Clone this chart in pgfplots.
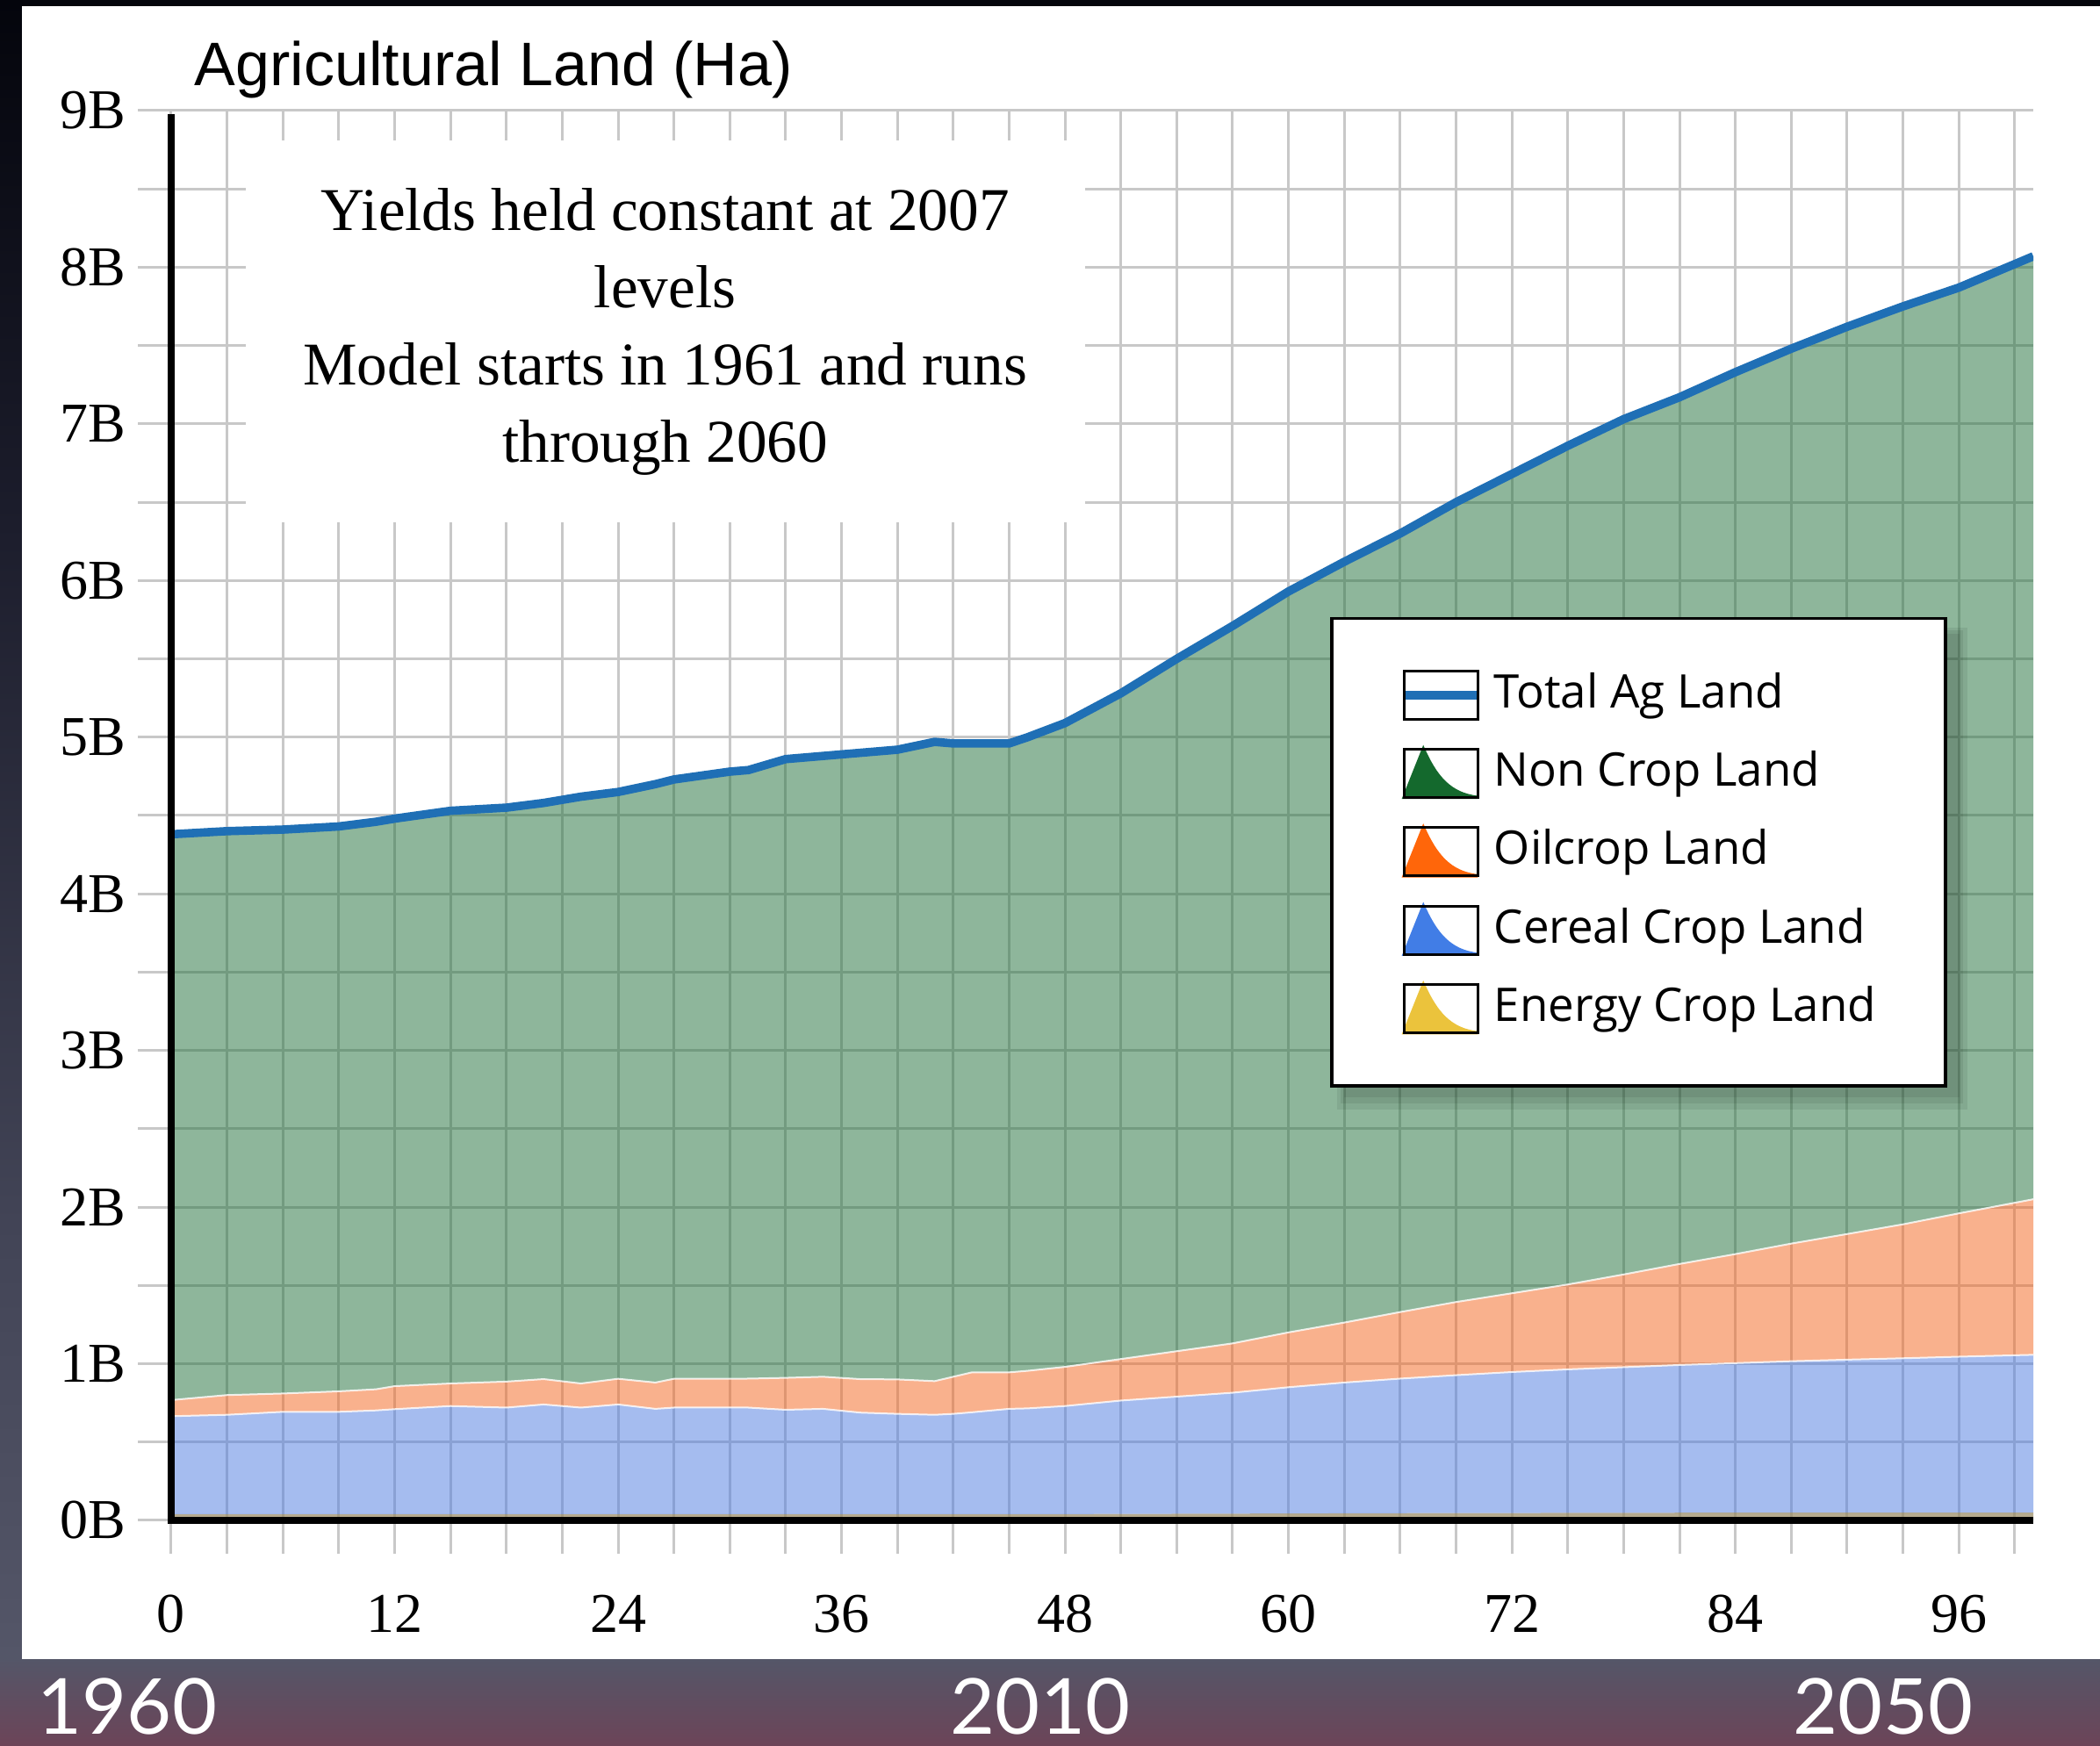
\documentclass[border=0pt]{standalone}
\usepackage{pgfplots}
\pgfplotsset{compat=1.18}
\usepackage{pgfplotstable}
\usepgfplotslibrary{fillbetween}
\usepackage{fontspec}
\setmainfont{Liberation Serif}
\newfontfamily\titlefont{Liberation Sans}
\newfontfamily\legfont{Open Sans}
\newfontfamily\yearfont{Lato}

\definecolor{nongreen}{RGB}{31,111,57}
\definecolor{oilorange}{RGB}{245,101,29}
\definecolor{cerealblue}{RGB}{77,123,225}
\definecolor{energytan}{RGB}{150,135,95}
\definecolor{legnon}{RGB}{20,105,45}
\definecolor{legoil}{RGB}{255,102,10}
\definecolor{legcer}{RGB}{65,125,230}
\definecolor{legene}{RGB}{235,195,60}
\definecolor{totblue}{RGB}{31,111,181}
\definecolor{gridgray}{RGB}{200,200,200}
\definecolor{bgtop}{RGB}{4,5,12}
\definecolor{bgmidA}{RGB}{28,29,44}
\definecolor{bgmidB}{RGB}{66,68,86}
\definecolor{bgband}{RGB}{84,86,104}
\definecolor{bgbot}{RGB}{108,68,88}

\pgfdeclareverticalshading{bgshade}{100bp}{color(0bp)=(bgbot); color(25bp)=(bgbot); color(27.5bp)=(bgband); color(40bp)=(bgmidB); color(60bp)=(bgmidA); color(75bp)=(bgtop); color(100bp)=(bgtop)}

\pgfplotstableread{
x   E     C      O      T
0   0.040 0.665  0.768  4.38
3   0.040 0.674  0.800  4.40
6   0.040 0.693  0.810  4.41
9   0.040 0.693  0.824  4.43
11  0.040 0.702  0.837  4.46
12  0.040 0.710  0.857  4.48
15  0.040 0.730  0.874  4.53
18  0.040 0.720  0.886  4.55
20  0.040 0.740  0.902  4.58
22  0.040 0.720  0.874  4.62
24  0.040 0.740  0.904  4.65
26  0.040 0.712  0.880  4.70
27  0.040 0.720  0.904  4.73
30  0.040 0.720  0.904  4.78
31  0.040 0.720  0.905  4.79
33  0.040 0.706  0.910  4.86
35  0.040 0.712  0.917  4.88
37  0.040 0.688  0.902  4.90
39  0.040 0.680  0.900  4.92
41  0.040 0.674  0.889  4.97
42  0.040 0.680  0.917  4.96
43  0.040 0.690  0.945  4.96
45  0.040 0.712  0.945  4.96
46  0.040 0.715  0.955  5.00
48  0.040 0.730  0.980  5.09
51  0.041 0.765  1.030  5.28
54  0.042 0.790  1.080  5.50
57  0.043 0.815  1.130  5.71
60  0.044 0.850  1.200  5.93
63  0.045 0.880  1.263  6.12
66  0.046 0.905  1.330  6.30
69  0.047 0.927  1.394  6.50
72  0.047 0.947  1.450  6.68
75  0.048 0.964  1.506  6.86
78  0.048 0.978  1.570  7.03
81  0.049 0.992  1.637  7.17
84  0.049 1.004  1.700  7.33
87  0.049 1.016  1.767  7.48
90  0.050 1.026  1.828  7.62
93  0.050 1.035  1.890  7.75
96  0.050 1.045  1.960  7.87
100 0.050 1.057  2.050  8.07
}\landdata

\begin{document}
\begin{tikzpicture}
\begin{axis}[
  name=ax, at={(0pt,0pt)}, anchor=south west,
  set layers, clip mode=individual,
  scale only axis, width=530.25pt, height=401.5pt,
  xmin=0, xmax=100, ymin=0, ymax=9,
  axis x line*=bottom, axis y line*=left, axis line style={draw=none},
  xtick={0,12,24,36,48,60,72,84,96},
  xticklabels={0,12,24,36,48,60,72,84,96},
  minor xtick={3,6,...,99},
  ytick={0,1,2,3,4,5,6,7,8,9},
  yticklabels={0B,1B,2B,3B,4B,5B,6B,7B,8B,9B},
  minor ytick={0.5,1.5,...,8.5},
  grid=both,
  grid style={gridgray, line width=0.75pt},
  major grid style={gridgray, line width=0.75pt},
  minor grid style={gridgray, line width=0.75pt},
  tick align=outside,
  major tick length=9.5pt, minor tick length=9.5pt,
  tick style={gridgray, line width=0.75pt},
  minor tick style={gridgray, line width=0.75pt},
  ticklabel style={font=\fontsize{16}{18}\selectfont, text=black},
  xticklabel style={yshift=-8.3pt},
  /pgf/number format/assume math mode=true,
  legend cell align=left,
  legend style={at={(0.6223,0.6409)}, anchor=north west, draw=black, line width=0.9pt, fill=white,
    inner xsep=19.75pt, inner ysep=14.6pt, row sep=7.7pt,
    font=\legfont\fontsize{13.2}{16}\selectfont,
    nodes={inner sep=0pt, text height=10.5pt, text depth=3.25pt},
    /tikz/every odd column/.append style={column sep=3.75pt}},
]
\begin{pgfonlayer}{axis background}
\path[shading=bgshade] (axis cs:-9.194,-1.4402) rectangle (axis cs:103.584,9.706);
\fill[white] (axis cs:-8.015,-0.8854) rectangle (axis cs:103.584,9.6668);
\end{pgfonlayer}

\addplot[draw=none, name path=Z, forget plot] coordinates {(0,0) (100,0)};
\addplot[draw=none, name path=E, forget plot] table[x=x,y=E]{\landdata};
\addplot[draw=none, name path=C, forget plot] table[x=x,y=C]{\landdata};
\addplot[draw=none, name path=O, forget plot] table[x=x,y=O]{\landdata};
\addplot[draw=none, name path=T, forget plot] table[x=x,y=T]{\landdata};
\addplot[fill=energytan, fill opacity=0.7, draw=none, forget plot] fill between[of=E and Z];
\addplot[fill=cerealblue, fill opacity=0.5, draw=none, forget plot] fill between[of=C and E];
\addplot[fill=oilorange, fill opacity=0.5, draw=none, forget plot] fill between[of=O and C];
\addplot[fill=nongreen, fill opacity=0.5, draw=none, forget plot] fill between[of=T and O];
\addplot[white, line width=0.5pt, opacity=0.8, forget plot] table[x=x,y=C]{\landdata};
\addplot[white, line width=0.5pt, opacity=0.8, forget plot] table[x=x,y=O]{\landdata};
\addplot[totblue, line width=2.4pt, forget plot] table[x=x,y=T]{\landdata};

\node[fill=white, minimum width=239pt, minimum height=108.75pt, inner sep=0pt, align=center,
  font=\fontsize{17.3}{22}\selectfont] at (axis cs:26.53,7.59)
  {Yields held constant at 2007\\levels\\Model starts in 1961 and runs\\through 2060};

% soft shadow behind the legend
\fill[black, opacity=0.07] (axis cs:62.6,2.62) rectangle (axis cs:96.45,5.70);
\fill[black, opacity=0.07] (axis cs:62.8,2.66) rectangle (axis cs:96.25,5.68);
\fill[black, opacity=0.07] (axis cs:63.0,2.70) rectangle (axis cs:96.05,5.66);

\addlegendimage{legend image code/.code={
  \draw[black, line width=0.7pt, fill=white] (0pt,-6.875pt) rectangle (21pt,6.875pt);
  \draw[totblue, line width=2.6pt] (0.4pt,0pt) -- (20.6pt,0pt);}}
\addlegendentry{Total Ag Land}
\addlegendimage{legend image code/.code={
  \draw[black, line width=0.7pt, fill=white] (0pt,-6.875pt) rectangle (21pt,6.875pt);
  \fill[legnon] (0pt,-6.875pt) -- (5.5pt,6.875pt) .. controls (9pt,-1pt) and (13pt,-6pt) .. (21pt,-6.875pt) -- cycle;
  \draw[black, line width=0.7pt] (0pt,-6.875pt) rectangle (21pt,6.875pt);}}
\addlegendentry{Non Crop Land}
\addlegendimage{legend image code/.code={
  \draw[black, line width=0.7pt, fill=white] (0pt,-6.875pt) rectangle (21pt,6.875pt);
  \fill[legoil] (0pt,-6.875pt) -- (5.5pt,6.875pt) .. controls (9pt,-1pt) and (13pt,-6pt) .. (21pt,-6.875pt) -- cycle;
  \draw[black, line width=0.7pt] (0pt,-6.875pt) rectangle (21pt,6.875pt);}}
\addlegendentry{Oilcrop Land}
\addlegendimage{legend image code/.code={
  \draw[black, line width=0.7pt, fill=white] (0pt,-6.875pt) rectangle (21pt,6.875pt);
  \fill[legcer] (0pt,-6.875pt) -- (5.5pt,6.875pt) .. controls (9pt,-1pt) and (13pt,-6pt) .. (21pt,-6.875pt) -- cycle;
  \draw[black, line width=0.7pt] (0pt,-6.875pt) rectangle (21pt,6.875pt);}}
\addlegendentry{Cereal Crop Land}
\addlegendimage{legend image code/.code={
  \draw[black, line width=0.7pt, fill=white] (0pt,-6.875pt) rectangle (21pt,6.875pt);
  \fill[legene] (0pt,-6.875pt) -- (5.5pt,6.875pt) .. controls (9pt,-1pt) and (13pt,-6pt) .. (21pt,-6.875pt) -- cycle;
  \draw[black, line width=0.7pt] (0pt,-6.875pt) rectangle (21pt,6.875pt);}}
\addlegendentry{Energy Crop Land}
\end{axis}
\draw[black, line width=2pt, line join=miter] (0pt,400.5pt) -- (0pt,0pt) -- (530.25pt,0pt);
\node[anchor=base west, inner sep=0pt, font=\titlefont\fontsize{17.5}{20}\selectfont] at (6.5pt,408.5pt) {Agricultural Land (Ha)};
\node[anchor=base, inner sep=0pt, text=white, font=\yearfont\fontsize{22}{24}\selectfont] at (-12.5pt,-61pt) {1960};
\node[anchor=base, inner sep=0pt, text=white, font=\yearfont\fontsize{22}{24}\selectfont] at (247.5pt,-61pt) {2010};
\node[anchor=base, inner sep=0pt, text=white, font=\yearfont\fontsize{22}{24}\selectfont] at (487.5pt,-61pt) {2050};
\pgfresetboundingbox
\useasboundingbox (-48.75pt,-64.25pt) rectangle (549.25pt,433pt);
\end{tikzpicture}
\end{document}
